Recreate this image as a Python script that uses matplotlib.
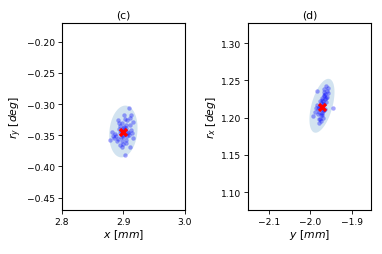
import numpy as np
import matplotlib
matplotlib.use('Agg')
import matplotlib.pyplot as plt
from matplotlib.patches import Polygon

#
# Datos panel (c): x [mm] contra r_y [deg]
#
x_c = [2.909, 2.901, 2.912, 2.891, 2.916, 2.881, 2.878, 2.897, 2.902, 2.911,
       2.916, 2.895, 2.905, 2.899, 2.903, 2.893, 2.908, 2.896, 2.904, 2.888,
       2.910, 2.900, 2.898, 2.906, 2.892, 2.913, 2.886, 2.902, 2.897, 2.907,
       2.894, 2.901, 2.911, 2.889, 2.904, 2.899, 2.896, 2.909, 2.884, 2.905,
       2.903, 2.893, 2.900, 2.914, 2.898, 2.883, 2.906, 2.895]
ry_c = [-0.306, -0.318, -0.317, -0.326, -0.329, -0.345, -0.358, -0.369, -0.382, -0.369,
        -0.355, -0.335, -0.338, -0.350, -0.342, -0.340, -0.347, -0.353, -0.357, -0.351,
        -0.334, -0.364, -0.330, -0.352, -0.356, -0.341, -0.348, -0.324, -0.360, -0.344,
        -0.346, -0.337, -0.322, -0.360, -0.333, -0.339, -0.343, -0.350, -0.354, -0.362,
        -0.348, -0.331, -0.353, -0.346, -0.341, -0.352, -0.326, -0.366]
mean_c = (2.900, -0.344)
# elipse: centro y semiejes (vectores en unidades de datos)
ell_c = ((2.900, -0.344), (0.0044, 0.0415), (0.0226, -0.0023))

#
# Datos panel (d): y [mm] contra r_x [deg]
#
y_d = [-1.963, -1.958, -1.968, -1.957, -1.966, -1.960, -1.984, -1.944, -1.979, -1.993,
       -1.975, -1.970, -1.965, -1.972, -1.978, -1.969, -1.962, -1.974, -1.981, -1.967,
       -1.976, -1.971, -1.986, -1.964, -1.973, -1.977, -1.969, -1.961, -1.982, -1.975,
       -1.968, -1.988, -1.966, -1.971, -1.979, -1.974, -1.959, -1.983, -1.970, -1.977,
       -1.965, -1.973, -1.980, -1.967]
rx_d = [1.242, 1.240, 1.238, 1.233, 1.230, 1.228, 1.236, 1.213, 1.193, 1.202,
        1.220, 1.218, 1.225, 1.212, 1.208, 1.222, 1.221, 1.215, 1.205, 1.210,
        1.198, 1.206, 1.213, 1.232, 1.224, 1.216, 1.200, 1.226, 1.211, 1.203,
        1.234, 1.208, 1.219, 1.227, 1.214, 1.196, 1.236, 1.217, 1.209, 1.222,
        1.212, 1.204, 1.198, 1.229]
mean_d = (-1.972, 1.215)
ell_d = ((-1.972, 1.216), (0.0182, 0.0360), (0.0244, -0.0038))

plt.rcParams['font.size'] = 6.6
plt.rcParams['axes.linewidth'] = 0.8

fig = plt.figure(figsize=(3.82, 2.55), dpi=100)
ax1 = fig.add_axes([0.162, 0.1725, 0.322, 0.733])
ax2 = fig.add_axes([0.649, 0.1725, 0.322, 0.733])


def ellipse(ax, e):
    (cx, cy), v1, v2 = e
    t = np.linspace(0, 2*np.pi, 100)
    px = cx + np.cos(t)*v1[0] + np.sin(t)*v2[0]
    py = cy + np.cos(t)*v1[1] + np.sin(t)*v2[1]
    ax.add_patch(Polygon(np.column_stack([px, py]), closed=True,
                         facecolor='C0', alpha=0.2, edgecolor='none'))


for ax, xs, ys, m, e in [(ax1, x_c, ry_c, mean_c, ell_c),
                         (ax2, y_d, rx_d, mean_d, ell_d)]:
    ellipse(ax, e)
    ax.scatter(xs, ys, s=10, color='blue', alpha=0.35, linewidths=0)
    ax.scatter([m[0]], [m[1]], s=45, marker='X', color='red', linewidths=0)

ax1.set_xlim(2.8, 3.0)
ax1.set_ylim(-0.47, -0.17)
ax1.set_xticks([2.8, 2.9, 3.0])
ax1.set_yticks([-0.20, -0.25, -0.30, -0.35, -0.40, -0.45])
ax1.set_xlabel(r'$x\ [mm]$', fontsize=7.8, labelpad=1)
ax1.set_ylabel(r'$r_y\ [deg]$', fontsize=7.8, labelpad=2)
ax1.set_title('(c)', fontsize=7.8, pad=4)

ax2.set_xlim(-2.152, -1.853)
ax2.set_ylim(1.076, 1.327)
ax2.set_xticks([-2.1, -2.0, -1.9])
ax2.set_yticks([1.10, 1.15, 1.20, 1.25, 1.30])
ax2.set_xlabel(r'$y\ [mm]$', fontsize=7.8, labelpad=1)
ax2.set_ylabel(r'$r_x\ [deg]$', fontsize=7.8, labelpad=2)
ax2.set_title('(d)', fontsize=7.8, pad=4)

for ax in (ax1, ax2):
    ax.tick_params(length=3, width=0.6, pad=2)

fig.savefig('out.png', dpi=100)
